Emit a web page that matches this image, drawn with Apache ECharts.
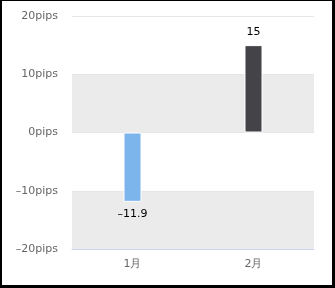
<!DOCTYPE html>
<html><head><meta charset="utf-8">
<script src="https://cdn.jsdelivr.net/npm/echarts@6/dist/echarts.min.js"></script>
<style>
html,body{margin:0;padding:0;background:#fff;}
#wrap{position:absolute;left:0;top:0;width:335px;height:288px;box-sizing:border-box;border-style:solid;border-color:#000;border-width:1px 3px 3px 2px;}
#c{position:absolute;left:0;top:0;width:330px;height:284px;}
</style></head>
<body><div id="wrap"><div id="c"></div></div>
<script>
var categories = ['1月', '2月'];
var values = [-11.9, 15];
var barColors = ['#7cb5ec', '#434348'];
var yTicks = [-20, -10, 0, 10, 20];

function fmt(v){ return v < 0 ? '\u2013' + (-v) : '' + v; }

var chart = echarts.init(document.getElementById('c'));
chart.setOption({
  animation: false,
  grid: {left: 70, right: 18, top: 15, bottom: 36},
  xAxis: {
    type: 'category', data: categories,
    axisLine: {onZero: false, lineStyle: {color: '#ccd6eb'}},
    axisTick: {show: false},
    axisLabel: {color: '#666', fontSize: 11, fontFamily: 'DejaVu Sans', margin: 10}
  },
  yAxis: {
    type: 'value', min: yTicks[0], max: yTicks[yTicks.length-1], interval: 10,
    axisLine: {show: false}, axisTick: {show: false},
    axisLabel: {color: '#666', fontSize: 11, fontFamily: 'DejaVu Sans', margin: 14,
      formatter: function(v){ return fmt(v) + 'pips'; }},
    splitLine: {lineStyle: {color: '#e6e6e6'}},
    splitArea: {show: true, areaStyle: {color: ['#ebebeb', '#ffffff']}}
  },
  series: [{
    type: 'bar', barWidth: 18,
    data: values.map(function(v, i){ return {value: v, itemStyle: {color: barColors[i]}}; }),
    itemStyle: {borderColor: '#fff', borderWidth: 1},
    label: {show: true, position: 'outside', color: '#000', fontSize: 11, fontFamily: 'DejaVu Sans', distance: 7,
      formatter: function(p){ return fmt(p.value); }}
  }]
});
</script></body></html>
